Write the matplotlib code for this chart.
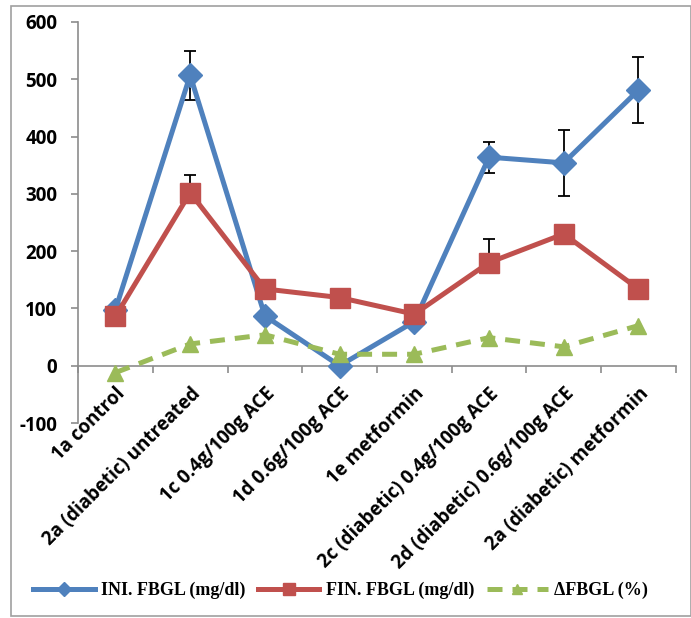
import matplotlib.pyplot as plt
from matplotlib.patches import Rectangle

plt.rcParams["axes.unicode_minus"] = False

categories = ["1a control", "2a (diabetic) untreated", "1c 0.4g/100g ACE",
              "1d 0.6g/100g ACE", "1e metformin", "2c (diabetic) 0.4g/100g ACE",
              "2d (diabetic) 0.6g/100g ACE", "2a (diabetic) metformin"]
ini_fbgl = [98, 507, 87, 0, 77, 364, 354, 481]
ini_err = [0, 43, 0, 0, 0, 27, 58, 58]
fin_fbgl = [86, 302, 134, 119, 90, 180, 230, 134]
fin_err = [0, 31, 0, 0, 0, 42, 0, 0]
delta_fbgl = [-12, 38, 54, 20, 20, 49, 33, 70]

x = list(range(len(categories)))

fig = plt.figure(figsize=(6.91, 6.18), dpi=100)
ax = fig.add_axes([0.113, 0.3155, 0.865, 0.649])

ax.errorbar(x, ini_fbgl, yerr=ini_err, fmt="none", ecolor="black", elinewidth=1.3,
            capsize=4.5, capthick=1.3, zorder=2)
ax.errorbar(x, fin_fbgl, yerr=[[0] * len(x), fin_err], fmt="none", ecolor="black",
            elinewidth=1.3, capsize=4.5, capthick=1.3, zorder=2)
ax.plot(x, ini_fbgl, color="#4F81BD", lw=3.6, marker="D", ms=12,
        label="INI. FBGL (mg/dl)", zorder=3)
ax.plot(x, fin_fbgl, color="#C0504D", lw=3.6, marker="s", ms=14,
        label="FIN. FBGL (mg/dl)", zorder=4)
ax.plot(x, delta_fbgl, color="#9BBB59", lw=3.6, ls=(0, (3, 2)), marker="^", ms=12,
        label="\u0394FBGL (%)", zorder=5)

ax.set_xlim(-0.5, len(x) - 0.5)
ax.set_ylim(-100, 600)
ax.set_yticks(range(-100, 601, 100))

for s in ["top", "right"]:
    ax.spines[s].set_visible(False)
ax.spines["bottom"].set_position(("data", 0))
ax.spines["bottom"].set_color("#8c8c8c")
ax.spines["left"].set_color("#8c8c8c")
ax.spines["bottom"].set_linewidth(1.2)
ax.spines["left"].set_linewidth(1.2)

ax.set_xticks(x)
ax.set_xticklabels(categories, rotation=45, ha="right", rotation_mode="anchor",
                   fontsize=13.5, fontweight="bold", family="Open Sans")
ax.set_xticks([i - 0.5 for i in range(len(x) + 1)], minor=True)
ax.tick_params(axis="x", which="major", length=0, pad=13)
ax.tick_params(axis="x", which="minor", length=5, width=1.2, color="#8c8c8c",
               direction="out")
ax.tick_params(axis="y", length=5, width=1.2, color="#8c8c8c", pad=10)
for lbl in ax.get_yticklabels():
    lbl.set_fontweight("bold")
    lbl.set_family("Open Sans")
    lbl.set_fontsize(13.5)

leg = fig.legend(loc="center left", bbox_to_anchor=(0.035, 0.044), ncol=3, frameon=False,
                 handlelength=3.4, columnspacing=0.7, handletextpad=0.35, borderpad=0,
                 markerscale=0.6,
                 prop={"family": "Liberation Serif", "weight": "bold", "size": 13})

fig.patches.append(Rectangle((0.016, 0.003), 0.984, 0.988, transform=fig.transFigure,
                             fill=False, edgecolor="#a0a0a0", lw=1.2))

fig.savefig("out.png", dpi=100)
